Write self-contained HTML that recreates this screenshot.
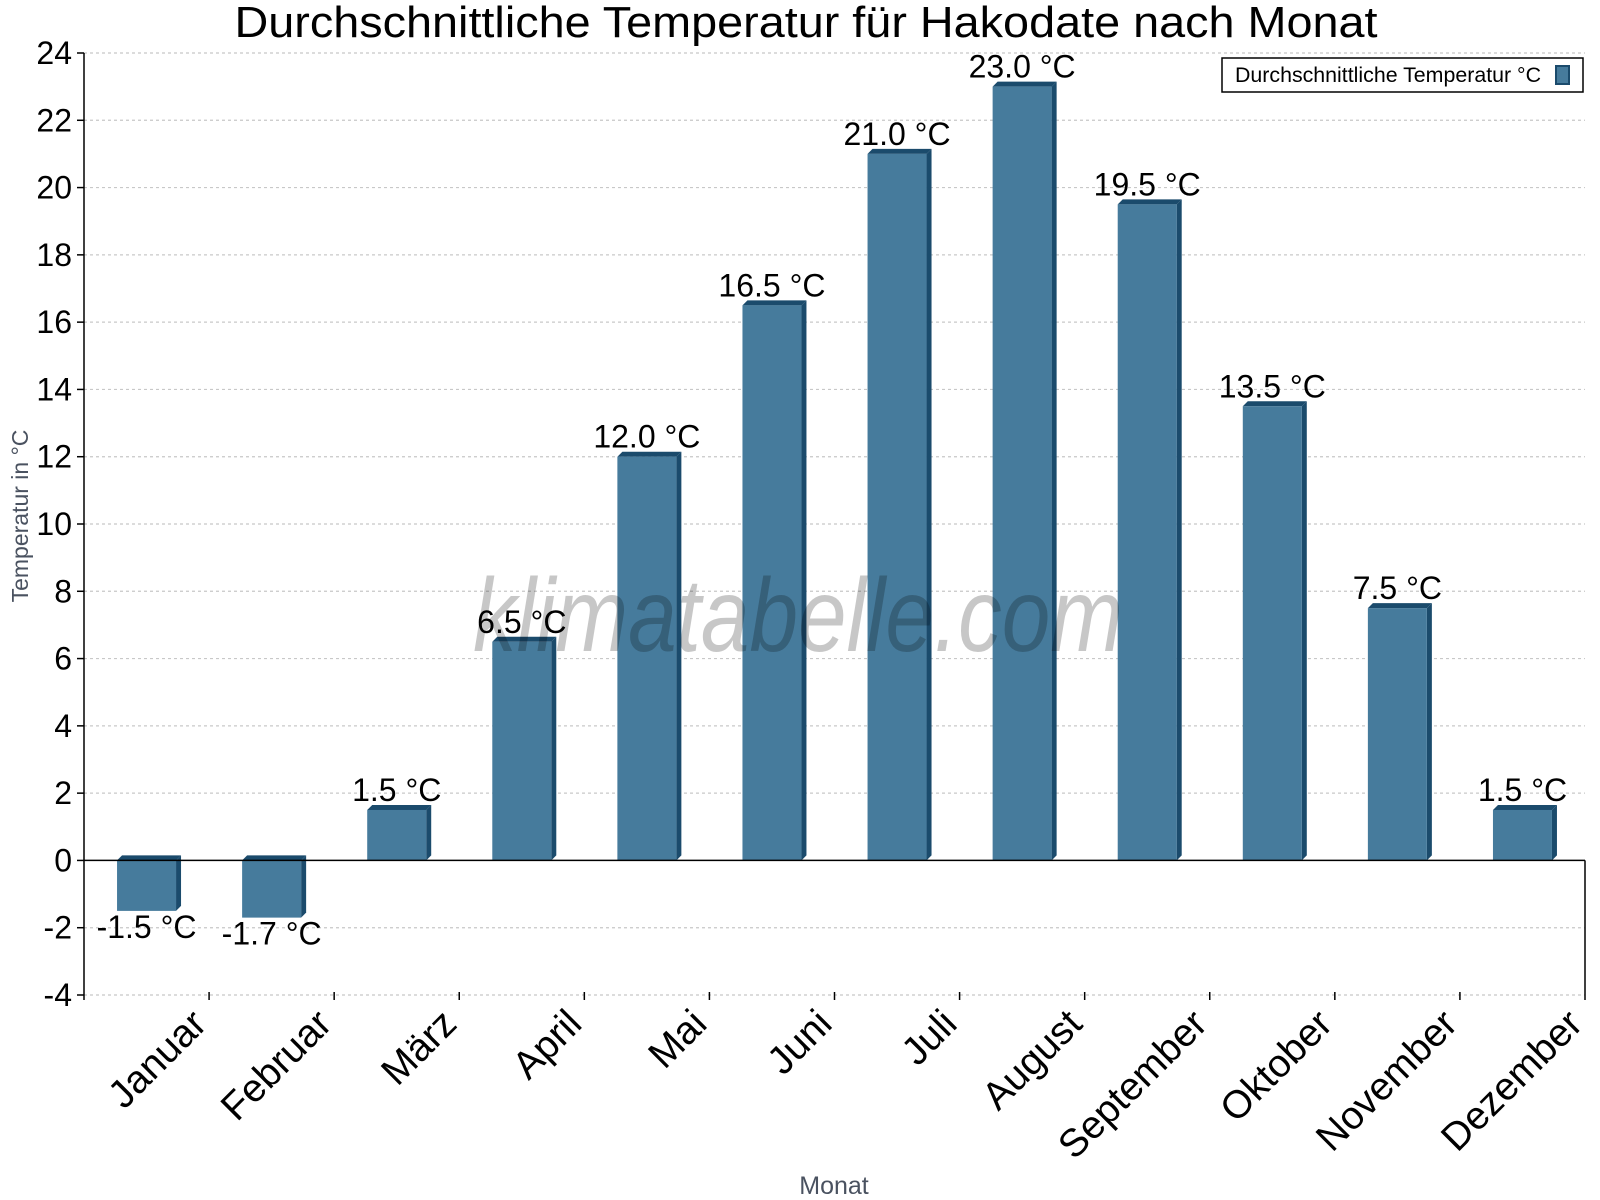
<!DOCTYPE html>
<html><head><meta charset="utf-8"><style>
html,body{margin:0;padding:0;background:#fff;}
svg{display:block;font-family:"Liberation Sans",sans-serif;}
</style></head><body>
<svg id="chart" width="1600" height="1200" viewBox="0 0 1600 1200" xmlns="http://www.w3.org/2000/svg">
<text x="806" y="37" font-size="44" text-anchor="middle" textLength="1143" lengthAdjust="spacingAndGlyphs">Durchschnittliche Temperatur für Hakodate nach Monat</text>
<g id="grid"></g>
<g id="bars"></g>
<text x="473" y="651" font-size="104" font-style="italic" fill="#000" fill-opacity="0.22" textLength="650" lengthAdjust="spacingAndGlyphs">klimatabelle.com</text>
<g id="axes"></g>
<text transform="translate(28,516) rotate(-90)" font-size="23" fill="#4a5260" text-anchor="middle">Temperatur in °C</text>
<text x="834" y="1194" font-size="25" fill="#4a5260" text-anchor="middle">Monat</text>
<g>
<rect x="1222" y="58" width="361" height="34" fill="#fff" stroke="#000" stroke-width="1.5"/>
<text x="1235" y="82" font-size="21" textLength="306" lengthAdjust="spacingAndGlyphs">Durchschnittliche Temperatur °C</text>
<rect x="1556" y="66" width="13" height="18" fill="#467b9c" stroke="#1b4b6c" stroke-width="2"/>
</g>
</svg>
<script>
const months = ["Januar","Februar","März","April","Mai","Juni","Juli","August","September","Oktober","November","Dezember"];
const temps = [-1.5,-1.7,1.5,6.5,12.0,16.5,21.0,23.0,19.5,13.5,7.5,1.5];
const yTicks = [-4,-2,0,2,4,6,8,10,12,14,16,18,20,22,24];
const NS="http://www.w3.org/2000/svg";
const L=84,R=1585,T=53,B=995,yMin=-4,yMax=24;
const band=(R-L)/months.length;
function y(v){return T+(yMax-v)/(yMax-yMin)*(B-T);}
function xc(i){return L+band*(i+0.5);}
function mk(tag,attrs,parent){const e=document.createElementNS(NS,tag);for(const k in attrs)e.setAttribute(k,attrs[k]);parent.appendChild(e);return e;}
const grid=document.getElementById('grid'),bars=document.getElementById('bars'),axes=document.getElementById('axes');
yTicks.forEach(v=>{
  if(v!==0){const g=mk('line',{x1:L,x2:R,y1:y(v),y2:y(v),stroke:'#c8c8c8','stroke-width':1.2,'stroke-dasharray':'3,3'},grid);
  
  }
  const t=mk('line',{x1:L-7,x2:L,y1:y(v),y2:y(v),stroke:'#000','stroke-width':1.5},axes);
  
  
  const lb=mk('text',{x:72,y:y(v)+11,'font-size':32,'text-anchor':'end'},axes);
  
  
  lb.textContent=String(v);
});
const bw=59,d=5;
temps.forEach((v,i)=>{
  const x0=xc(i)-bw/2,top=Math.min(y(v),y(0)),bot=Math.max(y(v),y(0));
  const g=mk('g',{},bars);
  
  
  mk('polygon',{points:`${x0},${top} ${x0+d},${top-d} ${x0+bw+d},${top-d} ${x0+bw},${top}`,fill:'#1b4b6c'},g);
  mk('polygon',{points:`${x0+bw},${top} ${x0+bw+d},${top-d} ${x0+bw+d},${bot-d} ${x0+bw},${bot}`,fill:'#1b4b6c'},g);
  mk('rect',{x:x0,y:top,width:bw,height:bot-top,fill:'#467b9c'},g);
  const ly=v>=0?y(v)-9:y(v)+27;
  const t=mk('text',{x:xc(i),y:ly,'font-size':32,'text-anchor':'middle'},bars);
  
  
  t.textContent=v.toFixed(1)+' °C';
});
const z=mk('line',{x1:L,x2:R,y1:y(0),y2:y(0),stroke:'#000','stroke-width':1.5},axes);


const ya=mk('line',{x1:L,x2:L,y1:T,y2:B+5,stroke:'#000','stroke-width':1.5},axes);


const ra=mk('line',{x1:R,x2:R,y1:y(0),y2:B+5,stroke:'#000','stroke-width':1.5},axes);


months.forEach((m,i)=>{
  const bx=L+band*(i+1);
  if(i<months.length-1){const t=mk('line',{x1:bx,x2:bx,y1:B-3,y2:B+5,stroke:'#000','stroke-width':1.5},axes);
  
  }
  const ax=xc(i)+62,ay=1026;
  const lb=mk('text',{x:ax,y:ay,'font-size':39,'text-anchor':'end',transform:`rotate(-45 ${ax} ${ay})`},axes);
  
  
  lb.textContent=m;
});
</script>
</body></html>
